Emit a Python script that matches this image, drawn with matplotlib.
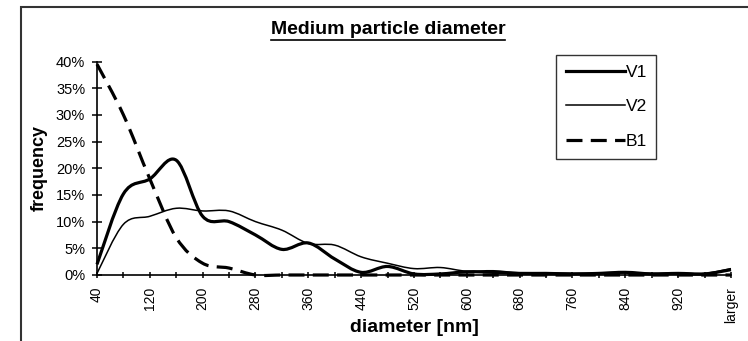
import matplotlib
matplotlib.use("Agg")
import matplotlib.pyplot as plt
from matplotlib.path import Path
from matplotlib.patches import PathPatch, Rectangle
from matplotlib.lines import Line2D

plt.rcParams['font.family'] = ['Liberation Sans', 'DejaVu Sans']

# size classes (nm) - last bin is "larger"
bins = [40, 80, 120, 160, 200, 240, 280, 320, 360, 400, 440, 480, 520,
        560, 600, 640, 680, 720, 760, 800, 840, 880, 920, 960, 'larger']

# frequency in %
v1 = [2.0, 15.2, 18.0, 21.5, 11.0, 10.0, 7.5, 4.8, 6.0, 3.0, 0.5, 1.6, 0.2,
      0.2, 0.6, 0.5, 0.3, 0.3, 0.2, 0.3, 0.5, 0.2, 0.3, 0.2, 1.0]
v2 = [0.3, 9.5, 11.0, 12.5, 12.0, 12.0, 10.0, 8.4, 5.9, 5.6, 3.4, 2.2, 1.2,
      1.4, 0.7, 0.8, 0.4, 0.4, 0.3, 0.4, 0.5, 0.3, 0.4, 0.3, 1.2]
b1 = [39.5, 30.0, 18.0, 7.0, 2.2, 1.3, 0.0, 0.0, 0.0, 0.0, 0.0, 0.0, 0.0,
      0.0, 0.0, 0.0, 0.0, 0.0, 0.0, 0.0, 0.0, 0.0, 0.0, 0.0, 0.0]

yticks = [0, 5, 10, 15, 20, 25, 30, 35, 40]


def smooth_path(ys):
    # excel-like "smoothed line": bezier segments through the data points
    xs = list(range(len(ys)))
    pts = list(zip(xs, ys))
    verts = [pts[0]]
    codes = [Path.MOVETO]
    n = len(pts)
    for i in range(n - 1):
        p0 = pts[max(i - 1, 0)]
        p1 = pts[i]
        p2 = pts[i + 1]
        p3 = pts[min(i + 2, n - 1)]
        c1 = (p1[0] + (p2[0] - p0[0]) / 6, p1[1] + (p2[1] - p0[1]) / 6)
        c2 = (p2[0] - (p3[0] - p1[0]) / 6, p2[1] - (p3[1] - p1[1]) / 6)
        verts += [c1, c2, p2]
        codes += [Path.CURVE4] * 3
    return Path(verts, codes)


fig = plt.figure(figsize=(7.48, 3.41), dpi=100)
ax = fig.add_axes([97 / 748, 66 / 341, 634 / 748, 213.5 / 341])

styles = [
    ('V1', v1, dict(linewidth=2.3, linestyle='-')),
    ('V2', v2, dict(linewidth=1.1, linestyle='-')),
    ('B1', b1, dict(linewidth=2.3, linestyle=(0, (5, 2.6)))),
]
handles = []
for name, ys, st in styles:
    patch = PathPatch(smooth_path(ys), facecolor='none', edgecolor='black',
                      clip_on=False, capstyle='butt', **st)
    ax.add_patch(patch)
    handles.append(Line2D([], [], color='black', label=name, **st))

ax.set_xlim(0, len(bins) - 1)
ax.set_ylim(0, 40)
ax.set_xticks(range(len(bins)))
ax.set_xticklabels([str(b) if i % 2 == 0 else '' for i, b in enumerate(bins)],
                   rotation=90, fontsize=10)
ax.set_yticks(yticks)
ax.set_yticklabels(['%d%%' % v for v in yticks], fontsize=10.5)
ax.tick_params(axis='x', direction='inout', length=5, width=1.1, pad=6)
ax.tick_params(axis='y', direction='inout', length=7, width=1.1, pad=5)

for s in ['top', 'right']:
    ax.spines[s].set_visible(False)
for s in ['left', 'bottom']:
    ax.spines[s].set_linewidth(1.2)

ax.set_ylabel('frequency', fontsize=13, fontweight='bold')
ax.yaxis.set_label_coords(-0.078, 0.5)
ax.set_xlabel('diameter [nm]', fontsize=14, fontweight='bold')
ax.xaxis.set_label_coords(0.5, -0.205)

leg = ax.legend(handles=handles, loc='upper left',
                bbox_to_anchor=(556 / 748, 1 - 55 / 341),
                bbox_transform=fig.transFigure, fontsize=12.5,
                frameon=True, fancybox=False, handlelength=3.45,
                handletextpad=0.0, labelspacing=1.13, borderpad=0.55,
                borderaxespad=0)
leg.get_frame().set_edgecolor('black')
leg.get_frame().set_linewidth(1.0)

title = fig.text(388 / 748, 1 - 30 / 341, 'Medium particle diameter',
                 ha='center', va='center', fontsize=14, fontweight='bold')

# chart border (clipped on the right and bottom in the scan)
fig.add_artist(Rectangle((21 / 748, -0.2), 1.2, 1.2 + (1 - 7 / 341) - 1.0,
                         transform=fig.transFigure, fill=False,
                         edgecolor='#333333', linewidth=1.5))

# underline the title
fig.canvas.draw()
bb = title.get_window_extent().transformed(fig.transFigure.inverted())
fig.add_artist(Line2D([bb.x0, bb.x1], [1 - 39.5 / 341] * 2,
                      transform=fig.transFigure, color='black', linewidth=1.2))

fig.savefig('out.png', dpi=100)
